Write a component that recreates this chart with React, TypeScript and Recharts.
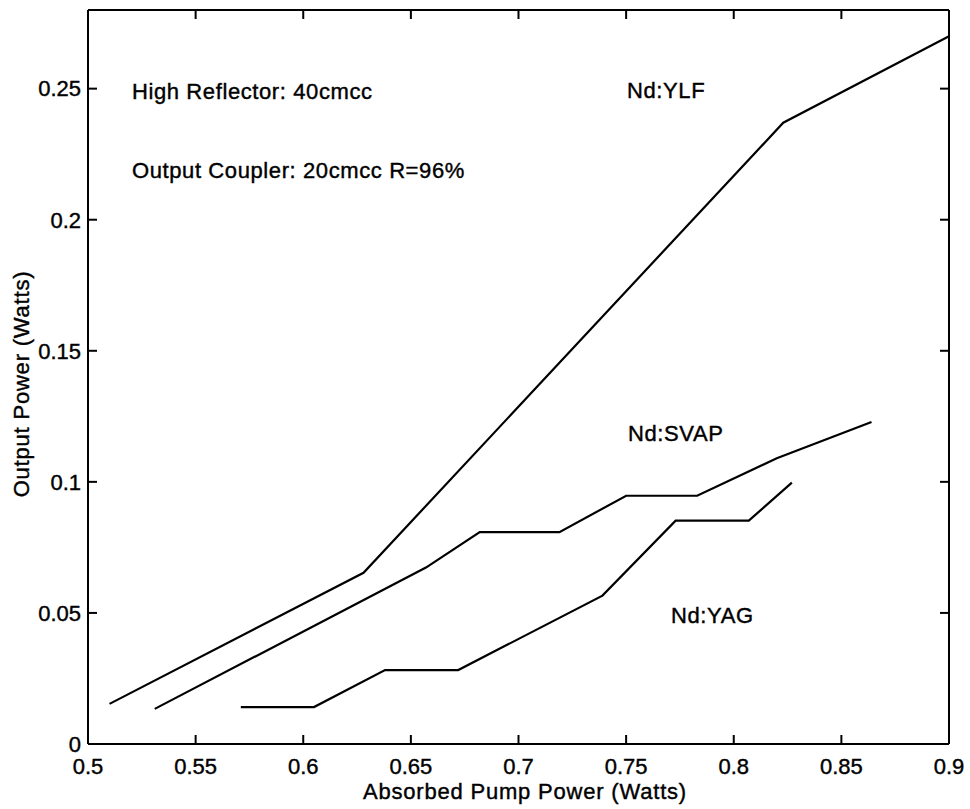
import { LineChart, Line, XAxis, YAxis } from "recharts";

// pump power (W) / output power (W)
const ylfPump = [0.51, 0.628, 0.823, 0.9];
const ylfOut = [0.0153, 0.0653, 0.237, 0.27];

const svapPump = [0.531, 0.657, 0.682, 0.719, 0.75, 0.783, 0.82, 0.864];
const svapOut = [0.0134, 0.0673, 0.0808, 0.0808, 0.0947, 0.0947, 0.109, 0.1228];

const yagPump = [0.571, 0.605, 0.638, 0.672, 0.739, 0.773, 0.807, 0.827];
const yagOut = [0.0141, 0.0141, 0.0282, 0.0282, 0.0566, 0.0852, 0.0852, 0.0997];

const xTicks = [0.5, 0.55, 0.6, 0.65, 0.7, 0.75, 0.8, 0.85, 0.9];
const yTicks = [0, 0.05, 0.1, 0.15, 0.2, 0.25];

const toRows = (xs: number[], ys: number[]) => xs.map((x, i) => ({ x, y: ys[i] }));

const ylf = toRows(ylfPump, ylfOut);
const svap = toRows(svapPump, svapOut);
const yag = toRows(yagPump, yagOut);

const font = "'Liberation Sans', Arial, Helvetica, sans-serif";
const frame = { stroke: "#000", strokeWidth: 2 };
const tickText = { fill: "#000", fontSize: 22, fontFamily: font, stroke: "#000", strokeWidth: 0.4 };
const blank = () => "";

const W = 970;
const H = 809;
const TOP = 10;
const RIGHT = 21;
const LEFT_AXIS = 88;
const BOTTOM_AXIS = 65;
const TICK = 9;
const X_MIN = 0.5;
const X_MAX = 0.9;
const PLOT_W = W - LEFT_AXIS - RIGHT;
const PLOT_BOTTOM = H - BOTTOM_AXIS;
// x tick marks (inward, top and bottom) — recharts x tick lines would not show here
const xTickPos = (v: number) => LEFT_AXIS + ((v - X_MIN) / (X_MAX - X_MIN)) * PLOT_W;

export default function App() {
  return (
    <div style={{ position: "absolute", left: 0, top: 0, width: W, height: H, background: "#fff" }}>
      <LineChart width={W} height={H} data={ylf} margin={{ top: TOP, right: RIGHT, left: 0, bottom: 0 }}>
        <XAxis xAxisId="x" dataKey="x" type="number" domain={[X_MIN, X_MAX]} ticks={xTicks} allowDataOverflow
          height={BOTTOM_AXIS} axisLine={frame} tickLine={false} tickSize={0} tickMargin={14} tick={tickText} interval={0} />
        <YAxis yAxisId="y" type="number" domain={[0, 0.28]} ticks={yTicks} allowDataOverflow
          width={LEFT_AXIS} axisLine={false} tickLine={false} tickSize={0} tickMargin={7} tick={tickText} interval={0} />
        {/* rest of the box */}
        <XAxis xAxisId="xt" dataKey="x" orientation="top" mirror type="number" domain={[X_MIN, X_MAX]} ticks={xTicks} allowDataOverflow
          height={10} axisLine={frame} tickLine={false} tickFormatter={blank} interval={0} />
        <YAxis yAxisId="yl" orientation="left" mirror type="number" domain={[0, 0.28]} ticks={yTicks} allowDataOverflow
          width={10} axisLine={frame} tickLine={frame} tickSize={TICK} tickFormatter={blank} interval={0} />
        <YAxis yAxisId="yr" orientation="right" mirror type="number" domain={[0, 0.28]} ticks={yTicks} allowDataOverflow
          width={10} axisLine={frame} tickLine={frame} tickSize={TICK} tickFormatter={blank} interval={0} />

        <Line xAxisId="x" yAxisId="y" data={ylf} dataKey="y" type="linear" stroke="#000" strokeWidth={2.2} dot={false} isAnimationActive={false} />
        <Line xAxisId="x" yAxisId="y" data={svap} dataKey="y" type="linear" stroke="#000" strokeWidth={2.2} dot={false} isAnimationActive={false} />
        <Line xAxisId="x" yAxisId="y" data={yag} dataKey="y" type="linear" stroke="#000" strokeWidth={2.2} dot={false} isAnimationActive={false} />
      </LineChart>

      <svg width={W} height={H} style={{ position: "absolute", left: 0, top: 0, pointerEvents: "none" }}>
        <g stroke="#000" strokeWidth={2}>
          {xTicks.map((v) => (
            <g key={v}>
              <line x1={xTickPos(v)} x2={xTickPos(v)} y1={PLOT_BOTTOM} y2={PLOT_BOTTOM - TICK} />
              <line x1={xTickPos(v)} x2={xTickPos(v)} y1={TOP} y2={TOP + TICK} />
            </g>
          ))}
        </g>
        <g fill="#000" stroke="#000" strokeWidth={0.4} fontFamily={font} fontSize={22}>
          <text x={132} y={99} letterSpacing={0.6}>High Reflector: 40cmcc</text>
          <text x={132} y={178} letterSpacing={0.6}>Output Coupler: 20cmcc R=96%</text>
          <text x={627} y={98} letterSpacing={0.6}>Nd:YLF</text>
          <text x={628} y={441} letterSpacing={0.6}>Nd:SVAP</text>
          <text x={671} y={623} letterSpacing={0.6}>Nd:YAG</text>
          <text x={525} y={799} textAnchor="middle" letterSpacing={0.8}>Absorbed Pump Power (Watts)</text>
          <text x={29} y={384} textAnchor="middle" letterSpacing={0.8} transform="rotate(-90 29 384)">Output Power (Watts)</text>
        </g>
      </svg>
    </div>
  );
}
